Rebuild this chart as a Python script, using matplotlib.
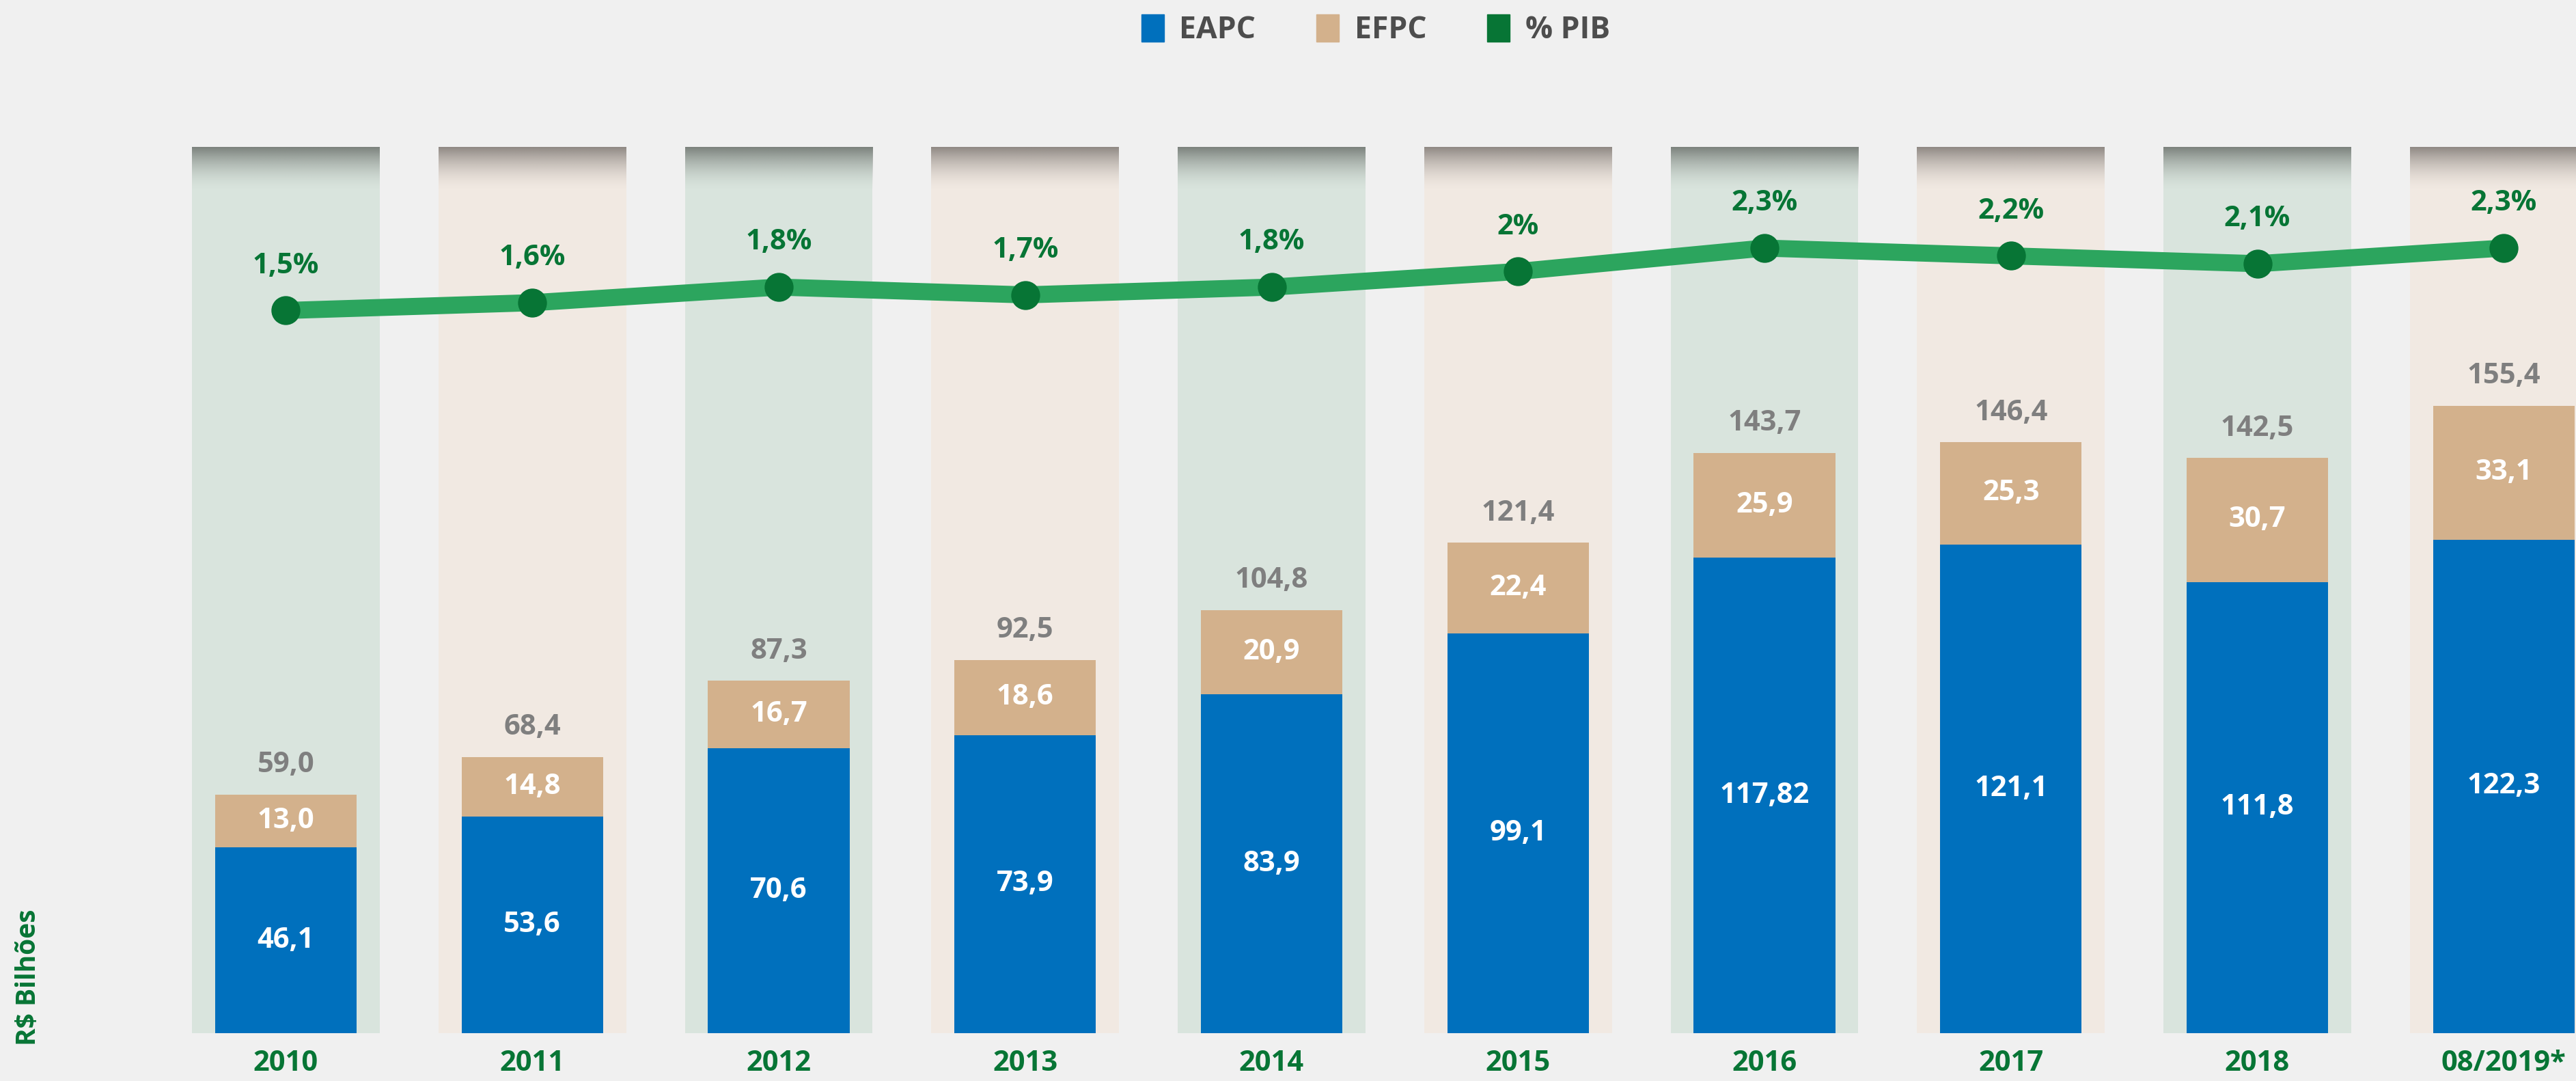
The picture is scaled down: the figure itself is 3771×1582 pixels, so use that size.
import numpy as np
import matplotlib
matplotlib.use('Agg')
import matplotlib.pyplot as plt
from matplotlib.patches import Patch
from matplotlib.colors import to_rgba

plt.rcParams['font.family'] = ['Open Sans', 'DejaVu Sans']

# Dados (R$ bilhões e % do PIB)
anos = ['2010', '2011', '2012', '2013', '2014', '2015', '2016', '2017', '2018', '08/2019*']
eapc = [46.1, 53.6, 70.6, 73.9, 83.9, 99.1, 117.82, 121.1, 111.8, 122.3]
efpc = [13.0, 14.8, 16.7, 18.6, 20.9, 22.4, 25.9, 25.3, 30.7, 33.1]
total = [59.0, 68.4, 87.3, 92.5, 104.8, 121.4, 143.7, 146.4, 142.5, 155.4]
pib = [1.5, 1.6, 1.8, 1.7, 1.8, 2.0, 2.3, 2.2, 2.1, 2.3]

cor_eapc = '#0070bd'
cor_efpc = '#d3b18c'
cor_pib = '#077535'
cor_linha = '#2ca55e'

fig = plt.figure(figsize=(37.71, 15.82), dpi=100, facecolor='#f0f0f0')
ax = fig.add_axes([0, 0.0441, 1, 0.9559])
ax.set_facecolor('none')

x = np.arange(len(anos))
topo_col = 219.3

# colunas de fundo alternadas com sombra no topo
for i in x:
    if i % 2 == 0:
        cor_col, cor_sombra = '#d9e4dd', '#7c827d'
    else:
        cor_col, cor_sombra = '#f1e9e2', '#8f8984'
    ax.bar(i, topo_col, width=0.762, color=cor_col, zorder=1)
    grad = np.zeros((60, 1, 4))
    rgba = to_rgba(cor_sombra)
    grad[:, 0, :3] = rgba[:3]
    t = np.linspace(0, 1, 60)
    grad[:, 0, 3] = np.clip(1 - t, 0, 1) ** 1.8
    ax.imshow(grad, extent=[i - 0.381, i + 0.381, topo_col - 11, topo_col],
              aspect='auto', zorder=2, interpolation='bilinear')

# barras empilhadas
ax.bar(x, eapc, width=0.574, color=cor_eapc, zorder=3)
ax.bar(x, efpc, width=0.574, bottom=eapc, color=cor_efpc, zorder=3)

for i in x:
    ax.text(i, eapc[i] / 2, str(eapc[i]).replace('.', ','), ha='center', va='center',
            color='white', fontsize=30, fontweight='bold', zorder=4)
    ax.text(i, eapc[i] + efpc[i] / 2, str(efpc[i]).replace('.', ','), ha='center', va='center',
            color='white', fontsize=30, fontweight='bold', zorder=4)
    ax.annotate(str(total[i]).replace('.', ','), (i, eapc[i] + efpc[i]), xytext=(0, 31),
                textcoords='offset points', ha='center', va='center',
                color='#7f7f7f', fontsize=30, fontweight='bold', zorder=4)

ax.set_xlim(-1.16, 9.293)
ax.set_ylim(0, 255.9)
ax.set_xticks(x)
ax.set_xticklabels(anos, fontsize=30, fontweight='bold', color=cor_pib)
ax.tick_params(axis='x', length=0, pad=17)
ax.set_yticks([])
for s in ax.spines.values():
    s.set_visible(False)

# linha % PIB
ax2 = ax.twinx()
ax2.plot(x, pib, color=cor_linha, linewidth=18, zorder=5, solid_capstyle='round')
ax2.plot(x, pib, 'o', color=cor_pib, markersize=29.5, zorder=6)
for i in x:
    ax2.annotate(f"{pib[i]:g}".replace('.', ',') + '%', (i, pib[i]), xytext=(0, 47),
                 textcoords='offset points', ha='center', va='center',
                 color=cor_pib, fontsize=30, fontweight='bold')
ax2.set_ylim(-7.763, 5.479)
ax2.set_yticks([])
for s in ax2.spines.values():
    s.set_visible(False)

# legenda
handles = [Patch(color=cor_eapc, label='EAPC'),
           Patch(color=cor_efpc, label='EFPC'),
           Patch(color=cor_pib, label='% PIB')]
fig.legend(handles=handles, loc='center', bbox_to_anchor=(0.534, 0.972), ncol=3,
           frameon=False, prop={'size': 32, 'weight': 'bold'}, labelcolor='#4d4d4d',
           handlelength=0.75, handleheight=1.0, handletextpad=0.5, columnspacing=2.0)

fig.text(0.011, 0.096, 'R$ Bilhões', rotation=90, ha='center', va='center',
         color=cor_pib, fontsize=28, fontweight='bold')

fig.savefig('out.png', dpi=100, facecolor=fig.get_facecolor())
